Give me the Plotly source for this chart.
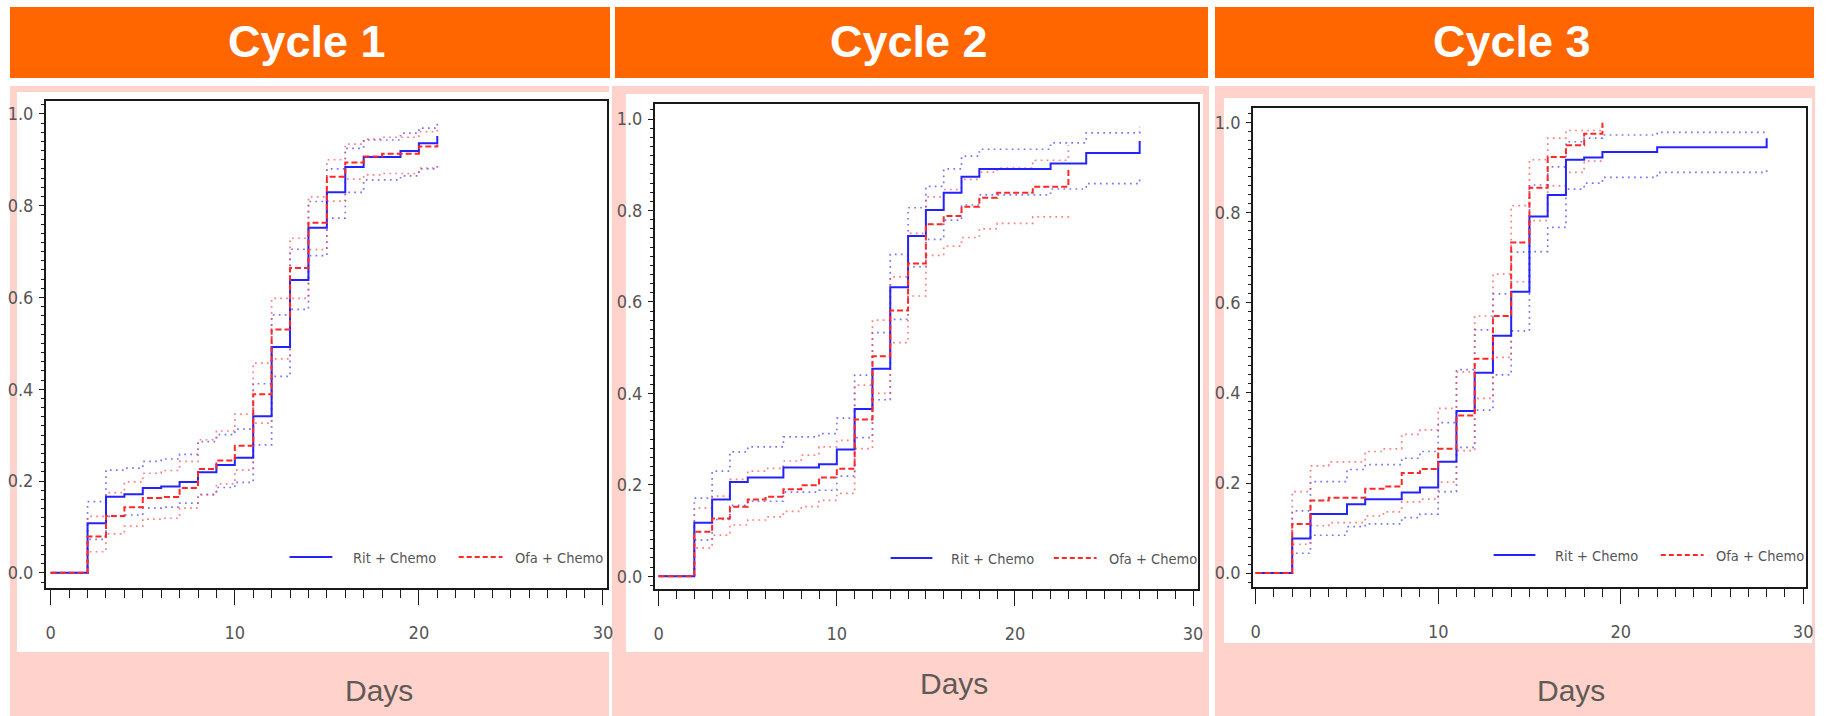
import plotly.graph_objects as go

W, H = 1828, 716

cycle_titles = ["Cycle 1", "Cycle 2", "Cycle 3"]
arm_names = ["Rit + Chemo", "Ofa + Chemo"]
x_tick_values = [0, 10, 20, 30]
y_tick_values = [0.0, 0.2, 0.4, 0.6, 0.8, 1.0]

# ---- Cycle 1 -------------------------------------------------------------
c1_rit_days = [0, 2, 3, 4, 5, 6, 7, 8, 9, 10, 11, 12, 13, 14, 15, 16, 17, 19, 20, 21]
c1_rit_est = [0, 0.108, 0.166, 0.171, 0.185, 0.188, 0.198, 0.219, 0.235, 0.251, 0.341,
              0.492, 0.638, 0.752, 0.829, 0.884, 0.906, 0.919, 0.936, 0.952]
c1_rit_lo = [0, 0.073, 0.123, 0.126, 0.141, 0.143, 0.152, 0.171, 0.186, 0.197, 0.279,
             0.428, 0.574, 0.691, 0.773, 0.829, 0.856, 0.865, 0.880, 0.886]
c1_rit_hi = [0, 0.155, 0.224, 0.228, 0.243, 0.248, 0.258, 0.286, 0.301, 0.313, 0.412,
             0.562, 0.705, 0.809, 0.880, 0.925, 0.943, 0.958, 0.969, 0.980]
c1_ofa_days = [0, 2, 3, 4, 5, 6, 7, 8, 9, 10, 11, 12, 13, 14, 15, 16, 17, 18, 20, 21]
c1_ofa_est = [0, 0.079, 0.124, 0.143, 0.163, 0.165, 0.185, 0.226, 0.245, 0.277, 0.389,
              0.530, 0.664, 0.763, 0.863, 0.894, 0.907, 0.913, 0.929, 0.933]
c1_ofa_lo = [0, 0.046, 0.085, 0.102, 0.117, 0.119, 0.141, 0.170, 0.194, 0.224, 0.326,
             0.466, 0.598, 0.704, 0.810, 0.858, 0.867, 0.870, 0.882, 0.886]
c1_ofa_hi = [0, 0.123, 0.175, 0.198, 0.217, 0.223, 0.243, 0.290, 0.309, 0.346, 0.457,
             0.598, 0.729, 0.819, 0.900, 0.934, 0.945, 0.949, 0.961, 0.966]

# ---- Cycle 2 -------------------------------------------------------------
c2_rit_days = [0, 2, 3, 4, 5, 7, 9, 10, 11, 12, 13, 14, 15, 16, 17, 18, 22, 24, 27]
c2_rit_est = [0, 0.117, 0.168, 0.206, 0.216, 0.238, 0.245, 0.277, 0.366, 0.454, 0.632,
              0.744, 0.801, 0.839, 0.874, 0.891, 0.903, 0.926, 0.952]
c2_rit_lo = [0, 0.079, 0.124, 0.155, 0.164, 0.184, 0.188, 0.219, 0.303, 0.386, 0.562,
             0.677, 0.737, 0.779, 0.812, 0.834, 0.847, 0.859, 0.869]
c2_rit_hi = [0, 0.171, 0.230, 0.272, 0.283, 0.305, 0.312, 0.346, 0.440, 0.533, 0.704,
             0.806, 0.853, 0.891, 0.919, 0.934, 0.948, 0.970, 0.983]
c2_ofa_days = [0, 2, 3, 4, 5, 6, 7, 8, 9, 10, 11, 12, 13, 14, 15, 16, 17, 18, 19, 21, 23]
c2_ofa_est = [0, 0.097, 0.126, 0.152, 0.168, 0.174, 0.190, 0.199, 0.216, 0.235, 0.343,
              0.481, 0.581, 0.684, 0.770, 0.788, 0.808, 0.828, 0.839, 0.852, 0.890]
c2_ofa_lo = [0, 0.062, 0.090, 0.112, 0.123, 0.130, 0.142, 0.152, 0.166, 0.181, 0.279,
             0.400, 0.511, 0.613, 0.702, 0.722, 0.741, 0.760, 0.772, 0.786, 0.797]
c2_ofa_hi = [0, 0.149, 0.175, 0.212, 0.230, 0.236, 0.252, 0.265, 0.283, 0.297, 0.418,
             0.560, 0.655, 0.750, 0.830, 0.846, 0.868, 0.884, 0.893, 0.910, 0.943]

# ---- Cycle 3 -------------------------------------------------------------
c3_rit_days = [0, 2, 3, 5, 6, 8, 9, 10, 11, 12, 13, 14, 15, 16, 17, 18, 19, 22, 28]
c3_rit_est = [0, 0.077, 0.131, 0.153, 0.164, 0.179, 0.190, 0.247, 0.360, 0.445, 0.527,
              0.625, 0.792, 0.840, 0.918, 0.923, 0.935, 0.946, 0.966]
c3_rit_lo = [0, 0.044, 0.084, 0.103, 0.109, 0.123, 0.131, 0.181, 0.279, 0.362, 0.440,
             0.538, 0.714, 0.768, 0.853, 0.866, 0.879, 0.890, 0.900]
c3_rit_hi = [0, 0.138, 0.203, 0.230, 0.241, 0.255, 0.270, 0.334, 0.452, 0.540, 0.620,
             0.713, 0.862, 0.902, 0.958, 0.966, 0.973, 0.979, 0.982]
c3_ofa_days = [0, 2, 3, 4, 6, 7, 8, 9, 10, 11, 12, 13, 14, 15, 16, 17, 18, 19]
c3_ofa_est = [0, 0.109, 0.161, 0.167, 0.187, 0.192, 0.222, 0.231, 0.276, 0.350, 0.476,
              0.571, 0.734, 0.856, 0.924, 0.950, 0.976, 1.000]
c3_ofa_lo = [0, 0.064, 0.105, 0.112, 0.127, 0.136, 0.158, 0.164, 0.202, 0.272, 0.388,
             0.479, 0.647, 0.783, 0.860, 0.890, 0.915, 0.930]
c3_ofa_hi = [0, 0.181, 0.238, 0.247, 0.270, 0.276, 0.308, 0.318, 0.366, 0.447, 0.571,
             0.664, 0.816, 0.918, 0.966, 0.983, 0.983, 1.000]

cycles = [
    dict(rit=(c1_rit_days, c1_rit_est, c1_rit_lo, c1_rit_hi),
         ofa=(c1_ofa_days, c1_ofa_est, c1_ofa_lo, c1_ofa_hi)),
    dict(rit=(c2_rit_days, c2_rit_est, c2_rit_lo, c2_rit_hi),
         ofa=(c2_ofa_days, c2_ofa_est, c2_ofa_lo, c2_ofa_hi)),
    dict(rit=(c3_rit_days, c3_rit_est, c3_rit_lo, c3_rit_hi),
         ofa=(c3_ofa_days, c3_ofa_est, c3_ofa_lo, c3_ofa_hi)),
]

# ---- layout geometry (pixels) --------------------------------------------
ORANGE = "#FF6600"
PINK = "#FFD3CC"
BLUE = "rgb(35,35,255)"
RED = "rgb(255,40,40)"
BLUE_CI = "rgba(70,70,255,0.75)"
RED_CI = "rgba(255,70,70,0.7)"
NARROW = "DejaVu Sans Condensed, Liberation Sans Narrow, sans-serif"
SANS = "Liberation Sans, Arial, Helvetica, sans-serif"

headers = [(8, 611, 7, 78), (616, 1212, 7, 78), (1219, 1821, 7, 78)]
pink_boxes = [(8, 610, 86, 716), (613, 1213, 86, 716), (1219, 1822, 86, 716)]
white_boxes = [(15, 610, 92, 652), (627, 1207, 94, 652), (1228, 1819, 98, 643)]
frames = [(44, 608, 101, 588), (656, 1202, 104, 589), (1257, 1813, 108, 587)]
x_ranges = [(-0.27, 30.22), (-0.22, 30.28), (-0.16, 30.16)]
y_ranges = [(-0.033, 1.028), (-0.028, 1.033), (-0.031, 1.033)]
days_label_pos = [(379, 690), (957, 683), (1577, 690)]
# blue sample, blue text start, red sample, red text start, y
legend_pos = [
    ((289, 332), 351, (459, 503), 514, 557),
    ((893, 935), 952, (1057, 1100), 1110, 558),
    ((1499, 1541), 1559, (1667, 1710), 1720, 555),
]


def fx(px):
    return px / W


def fy(py):
    return 1 - py / H


fig = go.Figure()
shapes = []
annotations = []

for i, cyc in enumerate(cycles):
    n = "" if i == 0 else str(i + 1)
    xa, ya = "x" + n, "y" + n

    # confidence limits (dotted), then the estimates
    for key, ci_color in (("rit", BLUE_CI), ("ofa", RED_CI)):
        days, est, lo, hi = cyc[key]
        for band in (lo, hi):
            fig.add_trace(go.Scatter(
                x=days, y=band, xaxis=xa, yaxis=ya, mode="lines",
                line=dict(shape="hv", color=ci_color, width=1.7, dash="1.7px,4.3px"),
                showlegend=False, hoverinfo="skip"))
    d, e, _, _ = cyc["rit"]
    fig.add_trace(go.Scatter(
        x=d, y=e, xaxis=xa, yaxis=ya, mode="lines", name=arm_names[0],
        line=dict(shape="hv", color=BLUE, width=2), showlegend=False))
    d, e, _, _ = cyc["ofa"]
    fig.add_trace(go.Scatter(
        x=d, y=e, xaxis=xa, yaxis=ya, mode="lines", name=arm_names[1],
        line=dict(shape="hv", color=RED, width=2, dash="6px,3px"), showlegend=False))

    fl, fr, ft, fb = frames[i]
    axis_common = dict(showgrid=False, zeroline=False, showline=True, mirror=True,
                       linecolor="#1a1a1a", linewidth=1.5, ticks="outside",
                       tickcolor="#1a1a1a", tickwidth=1.4,
                       tickfont=dict(family=NARROW, size=18, color="#555555"))
    fig.update_layout(**{
        "xaxis" + n: dict(axis_common, domain=[fx(fl), fx(fr)], range=list(x_ranges[i]),
                          anchor=ya, tickvals=x_tick_values, ticklen=15,
                          ticklabelstandoff=13,
                          minor=dict(dtick=1, tick0=0, ticklen=8, ticks="outside",
                                     tickcolor="#1a1a1a", tickwidth=1.2)),
        "yaxis" + n: dict(axis_common, domain=[fy(fb), fy(ft)], range=list(y_ranges[i]),
                          anchor=xa, tickvals=y_tick_values, tickformat=".1f", ticklen=5,
                          ticklabelstandoff=2,
                          minor=dict(dtick=0.02, tick0=0, ticklen=3, ticks="outside",
                                     tickcolor="#1a1a1a", tickwidth=1.2)),
    })

    # panel backgrounds
    l, r, t, b = pink_boxes[i]
    shapes.append(dict(type="rect", xref="paper", yref="paper", layer="below",
                       x0=fx(l), x1=fx(r), y0=fy(b), y1=fy(t),
                       fillcolor=PINK, line=dict(width=0)))
    l, r, t, b = white_boxes[i]
    shapes.append(dict(type="rect", xref="paper", yref="paper", layer="below",
                       x0=fx(l), x1=fx(r), y0=fy(b), y1=fy(t),
                       fillcolor="white", line=dict(width=0)))
    l, r, t, b = headers[i]
    shapes.append(dict(type="rect", xref="paper", yref="paper", layer="below",
                       x0=fx(l), x1=fx(r), y0=fy(b), y1=fy(t),
                       fillcolor=ORANGE, line=dict(width=0)))
    annotations.append(dict(xref="paper", yref="paper", x=fx((l + r) / 2 - 3),
                            y=fy((t + b) / 2 - 1), text=cycle_titles[i], showarrow=False,
                            xanchor="center", yanchor="middle",
                            font=dict(family=SANS, size=45, color="white", weight="bold")))

    dx, dy = days_label_pos[i]
    annotations.append(dict(xref="paper", yref="paper", x=fx(dx), y=fy(dy), text="Days",
                            showarrow=False, xanchor="center", yanchor="middle",
                            font=dict(family=SANS, size=30, color="#5f5a55")))

    (b0, b1), bt, (r0, r1), rt, ly = legend_pos[i]
    shapes.append(dict(type="line", xref="paper", yref="paper",
                       x0=fx(b0), x1=fx(b1), y0=fy(ly), y1=fy(ly),
                       line=dict(color=BLUE, width=2)))
    shapes.append(dict(type="line", xref="paper", yref="paper",
                       x0=fx(r0), x1=fx(r1), y0=fy(ly), y1=fy(ly),
                       line=dict(color=RED, width=2, dash="5px,3px")))
    for tx, label in ((bt, arm_names[0]), (rt, arm_names[1])):
        annotations.append(dict(xref="paper", yref="paper", x=fx(tx), y=fy(ly + 1),
                                text=label, showarrow=False, xanchor="left",
                                yanchor="middle",
                                font=dict(family=NARROW, size=14.5, color="#555555")))

fig.update_layout(
    width=W, height=H, margin=dict(l=0, r=0, t=0, b=0),
    paper_bgcolor="white", plot_bgcolor="white",
    showlegend=False, shapes=shapes, annotations=annotations,
)

fig.write_html("out.html")
